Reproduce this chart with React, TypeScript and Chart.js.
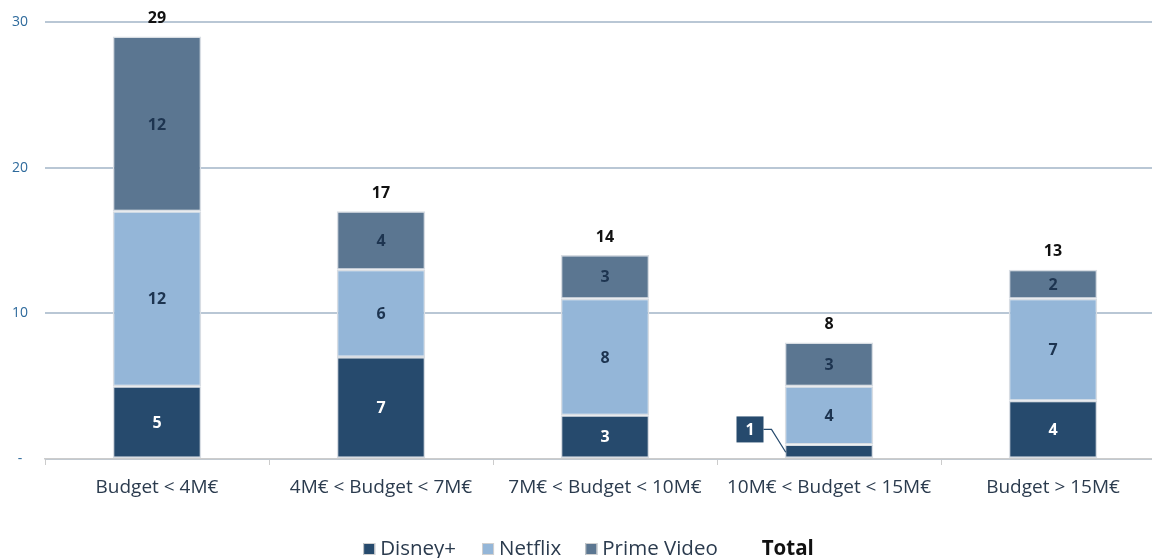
import React, { useEffect, useRef } from "react";
import { Chart, registerables } from "chart.js";

Chart.register(...registerables);

const categories = ["Budget < 4M€", "4M€ < Budget < 7M€", "7M€ < Budget < 10M€", "10M€ < Budget < 15M€", "Budget > 15M€"];
const disney = [5, 7, 3, 1, 4];
const netflix = [12, 6, 8, 4, 7];
const prime = [12, 4, 3, 3, 2];
const yTicks = [0, 10, 20, 30];

const seriesNames = ["Disney+", "Netflix", "Prime Video"];
const seriesColors = ["#264a6d", "#94b6d8", "#5b7691"];
const labelColors = ["#ffffff", "#1d3450", "#1d3450"];
const FONT = "'Open Sans', 'Noto Sans', sans-serif";

const W = 1170;
const H = 572;

export default function App() {
  const ref = useRef<HTMLCanvasElement | null>(null);

  useEffect(() => {
    const canvas = ref.current;
    if (!canvas) return;

    const labelsPlugin = {
      id: "segLabels",
      afterDatasetsDraw(chart: any) {
        const ctx = chart.ctx;
        ctx.save();
        ctx.textAlign = "center";
        ctx.textBaseline = "middle";
        const n = categories.length;
        for (let i = 0; i < n; i++) {
          let topY = Infinity;
          let barX = 0;
          chart.data.datasets.forEach((ds: any, di: number) => {
            const meta = chart.getDatasetMeta(di);
            const el: any = meta.data[i];
            if (!el) return;
            const v = ds.data[i];
            const y0 = Math.min(el.y, el.base);
            const y1 = Math.max(el.y, el.base);
            topY = Math.min(topY, y0);
            barX = el.x;
            if (!v) return;
            const cy = (y0 + y1) / 2;
            ctx.font = `bold 16px ${FONT}`;
            if (y1 - y0 < 20) {
              // callout
              const bx = el.x - 79;
              const by = y0 - 15;
              const bw = 27;
              const bh = 26;
              ctx.strokeStyle = seriesColors[di];
              ctx.lineWidth = 1.2;
              ctx.beginPath();
              ctx.moveTo(bx + bw / 2, by);
              ctx.lineTo(bx + bw / 2 + 8, by);
              ctx.lineTo(el.x - el.width / 2 + 1, cy + 1);
              ctx.stroke();
              ctx.fillStyle = seriesColors[di];
              ctx.fillRect(bx - bw / 2, by - bh / 2, bw, bh);
              ctx.fillStyle = labelColors[di];
              ctx.fillText(String(v), bx, by + 1);
            } else {
              ctx.fillStyle = labelColors[di];
              ctx.fillText(String(v), el.x, cy + 1);
            }
          });
          const total = disney[i] + netflix[i] + prime[i];
          ctx.font = `bold 16px ${FONT}`;
          ctx.fillStyle = "#111111";
          ctx.fillText(String(total), barX, topY - 18);
        }
        ctx.restore();
      },
    };

    const legendPlugin = {
      id: "customLegend",
      afterDraw(chart: any) {
        const ctx = chart.ctx;
        ctx.save();
        ctx.textBaseline = "middle";
        ctx.textAlign = "left";
        const y = 549;
        const box = 12;
        const items: { text: string; color: string | null; bold: boolean }[] = [
          ...seriesNames.map((s, i) => ({ text: s, color: seriesColors[i], bold: false })),
          { text: "Total", color: null, bold: true },
        ];
        let widths: number[] = [];
        items.forEach((it) => {
          ctx.font = `${it.bold ? "bold " : ""}20.5px ${FONT}`;
          const tw = ctx.measureText(it.text).width;
          widths.push((it.color ? box + 5 : 0) + tw);
        });
        const gaps = [26, 24, 44];
        const total = widths.reduce((a, b) => a + b, 0) + gaps.reduce((a, b) => a + b, 0);
        let x = 588.5 - total / 2;
        items.forEach((it, k) => {
          ctx.font = `${it.bold ? "bold " : ""}20.5px ${FONT}`;
          let tx = x;
          if (it.color) {
            ctx.fillStyle = it.color;
            ctx.fillRect(x, y - box / 2, box, box);
            ctx.strokeStyle = "#d0d0d0";
            ctx.lineWidth = 1;
            ctx.strokeRect(x + 0.5, y - box / 2 + 0.5, box - 1, box - 1);
            tx = x + box + 5;
          }
          ctx.fillStyle = it.bold ? "#111111" : "#2b3b4e";
          ctx.fillText(it.text, tx, y);
          x += widths[k] + (gaps[k] || 0);
        });
        ctx.restore();
      },
    };

    const chart = new Chart(canvas, {
      type: "bar",
      data: {
        labels: categories,
        datasets: [disney, netflix, prime].map((d, i) => ({
          label: seriesNames[i],
          data: d,
          backgroundColor: seriesColors[i],
          borderColor: "#d8dde3",
          borderWidth: 1.5,
          borderSkipped: false,
          barPercentage: 0.79,
          categoryPercentage: 0.5,
        })),
      },
      options: {
        responsive: false,
        animation: false,
        devicePixelRatio: 1,
        layout: { padding: { top: 22, right: 5, left: 0, bottom: 57 } },
        plugins: {
          legend: { display: false },
          tooltip: { enabled: false },
        },
        scales: {
          x: {
            stacked: true,
            grid: {
              offset: true,
              drawOnChartArea: false,
              drawTicks: true,
              tickLength: 6,
              color: "#cccccc",
            },
            border: { display: true, color: "#cccccc", width: 1.5 },
            ticks: {
              color: "#2b3b4e",
              font: { family: FONT, size: 19 },
              padding: 11,
              maxRotation: 0,
              autoSkip: false,
            },
            afterFit(scale: any) {
              scale.height = 56;
              scale.paddingLeft = 0;
              scale.paddingRight = 0;
            },
          },
          y: {
            stacked: true,
            min: 0,
            max: 30,
            afterBuildTicks(scale: any) {
              scale.ticks = yTicks.map((v) => ({ value: v }));
            },
            grid: {
              color: "#b9c7d5",
              lineWidth: 2,
              drawTicks: false,
            },
            border: { display: false },
            ticks: {
              color: "#2e6a9c",
              font: { family: FONT, size: 14 },
              crossAlign: "center",
              padding: 17,
              callback: (v: any) => (Number(v) === 0 ? "-" : String(v)),
            },
            afterFit(scale: any) {
              scale.width = 45;
              scale.paddingTop = 0;
              scale.paddingBottom = 0;
            },
          },
        },
      },
      plugins: [labelsPlugin, legendPlugin],
    });

    return () => chart.destroy();
  }, []);

  return (
    <div
      style={{
        position: "fixed",
        left: 0,
        top: 0,
        width: 1152,
        height: 558,
        overflow: "hidden",
        background: "#ffffff",
      }}
    >
      <canvas ref={ref} width={W} height={H} style={{ width: W, height: H, display: "block" }} />
    </div>
  );
}
